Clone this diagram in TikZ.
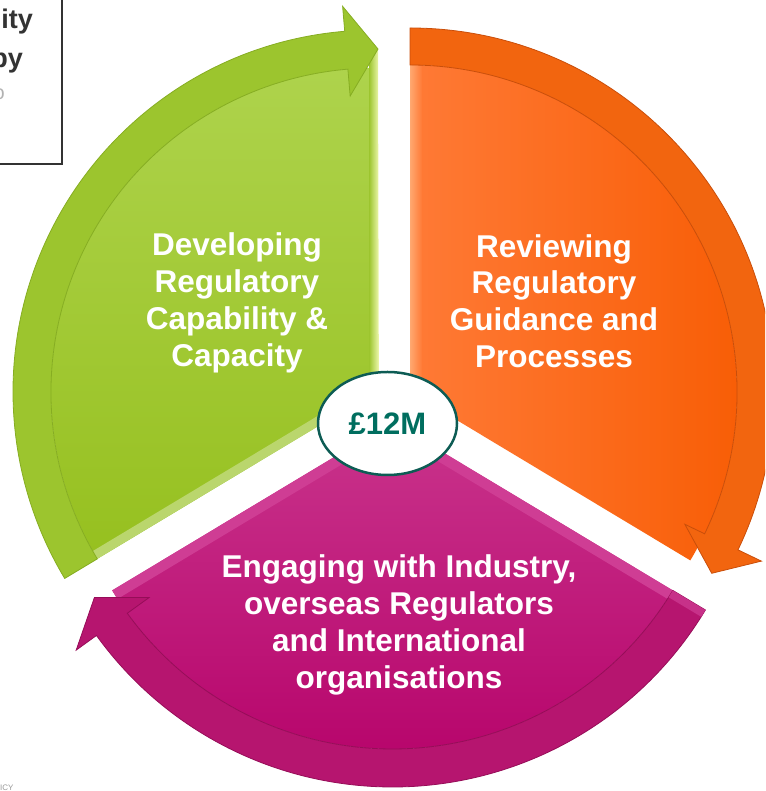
\documentclass[tikz,border=0pt]{standalone}
\usepackage{fontspec}
\setmainfont{Liberation Sans}
\usetikzlibrary{shapes.geometric,calc}
\definecolor{gband}{HTML}{9CC52E}
\definecolor{gpieT}{HTML}{AED34C}
\definecolor{gpieB}{HTML}{96C01F}
\definecolor{gline}{HTML}{86AD22}
\definecolor{gstrip}{HTML}{F0F9B0}
\definecolor{oband}{HTML}{F2650F}
\definecolor{opieT}{HTML}{FF7A36}
\definecolor{opieB}{HTML}{F75A00}
\definecolor{oline}{HTML}{C94E0A}
\definecolor{ostrip}{HTML}{FFA870}
\definecolor{mband}{HTML}{B6156F}
\definecolor{mpieT}{HTML}{C9348C}
\definecolor{mpieB}{HTML}{B50068}
\definecolor{mline}{HTML}{960D58}
\definecolor{mstrip}{HTML}{CF3D94}
\definecolor{teal}{HTML}{006E5F}
\definecolor{tealline}{HTML}{0D5C54}
\definecolor{boxgray}{HTML}{333333}
\tikzset{
  lbl/.style={text=white, align=center, inner sep=0pt,
    font=\fontsize{31.5}{36.8}\selectfont\bfseries},
  bandedge/.style={line width=0.8pt},
  boxtext/.style={anchor=base east, inner sep=0pt, text=boxgray,
    font=\fontsize{27}{30}\selectfont\bfseries},
}
\begin{document}
\begin{tikzpicture}[x=1pt,y=1pt]
\useasboundingbox (0,0) rectangle (765,791);
\clip (0,0) rectangle (765,791);

\coordinate (G) at (375,399);
\coordinate (O) at (410,399);
\coordinate (M) at (392.5,369);

% ---------- green segment ----------
\shade[top color=gpieT, bottom color=gpieB]
  (G) -- ($(G)+(90:324)$) arc[start angle=90, end angle=211, radius=324] -- cycle;
\fill[color=gband!70!white]
  (G) -- ($(G)+(211:362)$) -- ($(G)+(211:362)+(121:9)$) -- ($(G)+(121:9)$) -- cycle;
\shade[left color=gband, right color=gstrip]
  ($(G)+(-6,-40)$) -- ($(G)+(-6,340)$) -- ($(G)+(89.5:343)$) -- ($(G)+(4,-40)$) -- cycle;
\fill[gband, draw=gline, bandedge]
  ($(G)+(211:324)$) arc[start angle=211, end angle=94.8, radius=324]
  -- ($(G)+(94.8:297)$) -- ($(G)+(89.5:343)$) -- ($(G)+(94.8:387)$)
  -- ($(G)+(94.8:362)$) arc[start angle=94.8, end angle=211, radius=362] -- cycle;

% ---------- orange segment ----------
\shade[shading angle=135, left color=opieT, right color=opieB]
  (O) -- ($(O)+(-31:327)$) arc[start angle=-31, end angle=90, radius=327] -- cycle;
\shade[left color=ostrip, right color=opieT]
  ($(O)+(0,-40)$) -- ($(O)+(0,330)$) -- ($(O)+(12,330)$) -- ($(O)+(12,-40)$) -- cycle;
\fill[oband, draw=oline, bandedge]
  ($(O)+(90:327)$) -- ($(O)+(90:364)$) arc[start angle=90, end angle=-25.7, radius=364]
  -- ($(O)+(-25.7:390)$) -- ($(O)+(-31:352)$) -- ($(O)+(-25.7:305)$)
  -- ($(O)+(-25.7:327)$) arc[start angle=-25.7, end angle=90, radius=327] -- cycle;

% ---------- magenta segment ----------
\shade[top color=mpieT, bottom color=mpieB]
  (M) -- ($(M)+(211:327)$) arc[start angle=211, end angle=329, radius=327] -- cycle;
\fill[mstrip]
  (M) -- ($(M)+(211:327)$) -- ($(M)+(211:327)+(301:10)$) -- ($(M)+(270:12)$) -- cycle;
\fill[mstrip]
  (M) -- ($(M)+(329:327)$) -- ($(M)+(329:327)+(239:10)$) -- ($(M)+(270:12)$) -- cycle;
\fill[mband, draw=mline, bandedge]
  ($(M)+(329:327)$) -- ($(M)+(329:365)$) arc[start angle=329, end angle=215.8, radius=365]
  -- ($(M)+(215.8:390)$) -- ($(M)+(210.5:346)$) -- ($(M)+(215.8:300)$)
  -- ($(M)+(215.8:327)$) arc[start angle=215.8, end angle=329, radius=327] -- cycle;
\fill[mstrip!70!mband]
  ($(M)+(329:327)$) -- ($(M)+(329:365)$) -- ($(M)+(329:365)+(239:8)$) -- ($(M)+(329:327)+(239:8)$) -- cycle;

% ---------- labels ----------
\node[lbl] (tg) at (237,488) {Developing\\Regulatory\\Capability \&\\Capacity};
\node[lbl] (to) at (554,490) {Reviewing\\Regulatory\\Guidance and\\Processes};
\node[lbl] (tm) at (399,166) {Engaging with Industry,\\overseas Regulators\\and International\\organisations};

% ---------- centre ----------
\node[ellipse, draw=tealline, line width=2.5pt, fill=white, inner sep=0pt,
  minimum width=139pt, minimum height=103pt, text=teal,
  font=\fontsize{31}{36}\selectfont\bfseries] (c) at (387.5,367.5) {£12M};

% ---------- cropped box top-left ----------
\node[draw=boxgray, line width=1.6pt, fill=none, minimum width=80pt, minimum height=180pt,
  anchor=south east, inner sep=0pt] (box) at (63,626) {};
\node[boxtext] (b1) at (33,762) {ity};
\node[boxtext] (b2) at (23,723) {py};
\node[anchor=base east, inner sep=0pt, text=black!30,
  font=\fontsize{20}{24}\selectfont] (b3) at (5,691) {o};

% ---------- cropped footer text ----------
\node[anchor=north west, inner sep=0pt, text=black!40,
  font=\fontsize{8}{9}\selectfont] (ft) at (0,6) {ICY};
\end{tikzpicture}
\end{document}
